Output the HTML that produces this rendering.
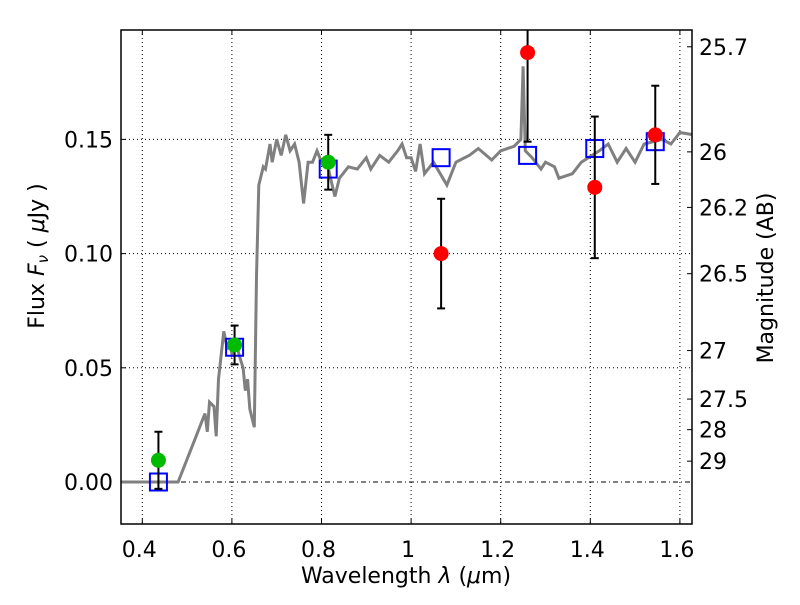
<!DOCTYPE html>
<html><head><meta charset="utf-8"><style>
body{margin:0;background:#fff}
svg text{font-family:"DejaVu Sans","Liberation Sans",sans-serif;fill:#000}
</style></head><body>
<svg id="c" width="800" height="600" xmlns="http://www.w3.org/2000/svg"></svg>
<script>
const xTicks=[0.4,0.6,0.8,1.0,1.2,1.4,1.6];
const xTickLabels=["0.4","0.6","0.8","1","1.2","1.4","1.6"];
const yTicks=[0,0.05,0.10,0.15];
const yTickLabels=["0.00","0.05","0.10","0.15"];
const magTicks=[25.7,26,26.2,26.5,27,27.5,28,29];
const magTickLabels=["25.7","26","26.2","26.5","27","27.5","28","29"];
const specWave=[0.35,0.48,0.52,0.53,0.54,0.545,0.55,0.56,0.565,0.57,0.582,0.59,0.595,0.6,0.61,0.62,0.625,0.63,0.635,0.64,0.65,0.655,0.66,0.67,0.675,0.685,0.69,0.7,0.71,0.72,0.73,0.74,0.75,0.76,0.77,0.78,0.79,0.8,0.81,0.82,0.83,0.84,0.86,0.88,0.9,0.91,0.93,0.95,0.97,0.98,0.99,1.0,1.01,1.02,1.03,1.05,1.08,1.1,1.13,1.15,1.18,1.2,1.23,1.245,1.25,1.255,1.27,1.29,1.3,1.32,1.33,1.36,1.38,1.42,1.44,1.46,1.48,1.5,1.52,1.56,1.58,1.6,1.63];
const specFlux=[0,0,0.02,0.025,0.03,0.022,0.035,0.033,0.02,0.045,0.066,0.058,0.062,0.056,0.06,0.053,0.05,0.04,0.045,0.032,0.024,0.09,0.13,0.138,0.137,0.148,0.14,0.15,0.143,0.152,0.145,0.148,0.14,0.122,0.14,0.14,0.145,0.14,0.142,0.133,0.125,0.133,0.138,0.137,0.142,0.137,0.143,0.14,0.145,0.148,0.142,0.142,0.136,0.148,0.135,0.14,0.13,0.14,0.143,0.146,0.141,0.145,0.147,0.15,0.182,0.145,0.142,0.137,0.14,0.138,0.133,0.135,0.14,0.145,0.148,0.14,0.146,0.14,0.148,0.15,0.148,0.153,0.152];
const obsWave=[0.436,0.606,0.815,1.067,1.26,1.41,1.545];
const obsFlux=[0.0095,0.060,0.140,0.100,0.188,0.129,0.152];
const obsErr=[0.0125,0.0085,0.012,0.024,0.039,0.031,0.0215];
const obsDetected=[true,true,true,false,false,false,false];
const modelFlux=[0.0,0.059,0.137,0.142,0.143,0.146,0.149];

const L=121,R=692,T=30,B=524;
const x=v=>142.3+(v-0.4)*448;
const y=v=>482-v*2284;
const magToFlux=m=>Math.pow(10,(23.9-m)/2.5);
const svg=document.getElementById('c');
const NS="http://www.w3.org/2000/svg";
function mk(tag,attrs,parent){const e=document.createElementNS(NS,tag);for(const k in attrs)e.setAttribute(k,attrs[k]);(parent||svg).appendChild(e);return e;}

const clip=mk('clipPath',{id:'pc'});mk('rect',{x:L,y:T,width:R-L,height:B-T},clip);

xTicks.forEach((v,i)=>{
 const g=mk('line',{x1:x(v),x2:x(v),y1:T,y2:B,stroke:'#000','stroke-width':1,'stroke-dasharray':'1,3'});
 
 mk('line',{x1:x(v),x2:x(v),y1:B,y2:B-5,stroke:'#000'});
 mk('line',{x1:x(v),x2:x(v),y1:T,y2:T+5,stroke:'#000'});
 const t=mk('text',{x:x(v)-3,y:557,'font-size':22,'text-anchor':'middle'});t.textContent=xTickLabels[i];
 
});
yTicks.forEach((v,i)=>{
 const g=mk('line',{x1:L,x2:R,y1:y(v),y2:y(v),stroke:'#000','stroke-width':1,'stroke-dasharray':i==0?'5,3,1,3':'1,3'});
 
 mk('line',{x1:L,x2:L+5,y1:y(v),y2:y(v),stroke:'#000'});
 const t=mk('text',{x:113,y:y(v)+8,'font-size':22,'text-anchor':'end'});t.textContent=yTickLabels[i];
 
});
magTicks.forEach((m,i)=>{
 const yy=y(magToFlux(m));
 mk('line',{x1:R,x2:R-5,y1:yy,y2:yy,stroke:'#000'});
 const t=mk('text',{x:699,y:yy+8,'font-size':22});t.textContent=magTickLabels[i];
 
});

const pts=specWave.map((w,i)=>x(w).toFixed(1)+','+y(specFlux[i]).toFixed(1)).join(' ');
const sp=mk('polyline',{points:pts,fill:'none',stroke:'#808080','stroke-width':3,'clip-path':'url(#pc)'});


modelFlux.forEach((f,i)=>{
 const r=mk('rect',{x:x(obsWave[i])-8.5,y:y(f)-8.5,width:17,height:17,fill:'none',stroke:'#0000ff','stroke-width':2,'clip-path':'url(#pc)'});
 
});
obsFlux.forEach((f,i)=>{
 const cx=x(obsWave[i]),t=y(f+obsErr[i]),b=y(f-obsErr[i]);
 const g=mk('g',{'clip-path':'url(#pc)'});
 
 mk('line',{x1:cx,x2:cx,y1:t,y2:b,stroke:'#000','stroke-width':2},g);
 mk('line',{x1:cx-4,x2:cx+4,y1:t,y2:t,stroke:'#000','stroke-width':2},g);
 mk('line',{x1:cx-4,x2:cx+4,y1:b,y2:b,stroke:'#000','stroke-width':2},g);
 const c=mk('circle',{cx:cx,cy:y(f),r:7.5,fill:obsDetected[i]?'#00bb00':'#ff0000','clip-path':'url(#pc)'});
 
});

const fr=mk('rect',{x:L,y:T,width:R-L,height:B-T,fill:'none',stroke:'#000','stroke-width':1.5});

</script>
<div style="position:absolute;left:0;top:0;width:800px;height:600px;pointer-events:none">
<svg width="800" height="600" xmlns="http://www.w3.org/2000/svg">
<text x="406" y="583" font-size="22" text-anchor="middle">Wavelength  <tspan font-style="italic">λ</tspan> (<tspan font-style="italic">μ</tspan>m)</text>
<text transform="translate(44,256) rotate(-90)" font-size="22" text-anchor="middle">Flux  <tspan font-style="italic">F</tspan><tspan font-style="italic" font-size="15" dy="4">ν</tspan><tspan dy="-4">  (  </tspan><tspan font-style="italic">μ</tspan>Jy )</text>
<text transform="translate(773,278) rotate(-90)" font-size="22" text-anchor="middle">Magnitude (AB)</text>
</svg></div>
</body></html>
